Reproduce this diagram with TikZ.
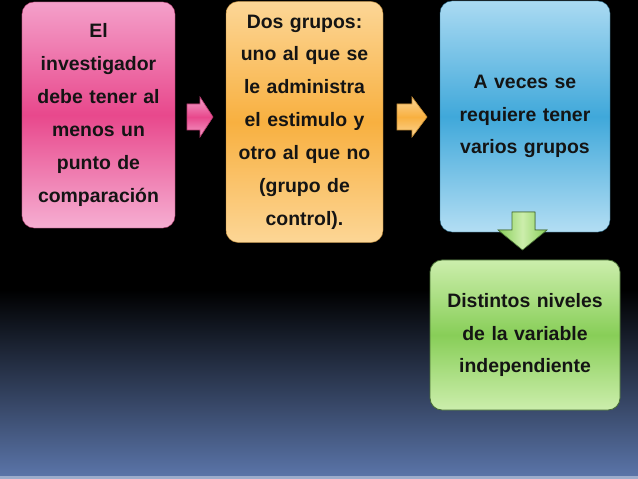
\documentclass[tikz,border=0pt]{standalone}
\usepackage{fontspec}
\setmainfont{Liberation Sans}
\usetikzlibrary{calc}
\definecolor{pinkL}{RGB}{244,160,202}
\definecolor{pinkM}{RGB}{232,72,140}
\definecolor{orL}{RGB}{252,214,150}
\definecolor{orM}{RGB}{248,176,64}
\definecolor{blL}{RGB}{170,218,242}
\definecolor{blM}{RGB}{64,168,218}
\definecolor{grL}{RGB}{204,238,172}
\definecolor{grM}{RGB}{136,206,88}
\definecolor{grB}{RGB}{70,110,50}
\definecolor{bgB}{RGB}{90,116,168}
\definecolor{txt}{RGB}{20,20,20}
\tikzset{
  box/.style={rounded corners=12bp, inner sep=0pt, align=center, text=txt,
    font=\fontsize{19.5}{33}\selectfont\bfseries},
  blockarrow/.style={line width=0.6bp}
}
\begin{document}
\begin{tikzpicture}[x=1bp,y=-1bp]
\useasboundingbox (0,0) rectangle (638,479);
\fill[black] (0,0) rectangle (638,479);
\shade[top color=black, bottom color=bgB] (0,290) rectangle (638,476);
\fill[bgB!60!white] (0,476) rectangle (638,479);

\node[box, minimum width=153bp, minimum height=226bp, text width=150bp,
  top color=pinkL, bottom color=pinkL!85!white, middle color=pinkM, draw=pinkM!70!black, line width=0.4bp]
  (p) at (98.5,115) {El\\investigador\\debe tener al\\menos un\\punto de\\comparación};
\node[box, minimum width=157bp, minimum height=241bp, text width=154bp,
  top color=orL, bottom color=orL, middle color=orM, draw=orM!70!black, line width=0.4bp]
  (o) at (304.5,122) {Dos grupos:\\uno al que se\\le administra\\el estimulo y\\otro al que no\\(grupo de\\control).};
\node[box, minimum width=170bp, minimum height=231bp, text width=166bp,
  top color=blL, bottom color=blL!90!white, middle color=blM, draw=blM!60!black, line width=0.4bp]
  (b) at (525,116.5) {A veces se\\requiere tener\\varios grupos};
\node[box, minimum width=190bp, minimum height=150bp, text width=186bp,
  top color=grL, bottom color=grL, middle color=grM, draw=grB, line width=0.8bp]
  (g) at (525,335) {Distintos niveles\\de la variable\\independiente};

% pink block arrow
\coordinate (a1) at (187,117);
\filldraw[blockarrow, top color=pinkL, bottom color=pinkL, middle color=pinkM, draw=pinkM!80!black]
  (a1) ++(0,-13) -- ++(13,0) -- ++(0,-7) -- (213,117) -- (200,137) -- (200,130) -- (187,130) -- cycle;
% orange block arrow
\coordinate (a2) at (397,117);
\filldraw[blockarrow, top color=orL, bottom color=orL, middle color=orM, draw=orM!80!black]
  (a2) ++(0,-13) -- ++(15,0) -- ++(0,-7) -- (427,117) -- (412,137) -- (412,130) -- (397,130) -- cycle;
% green block arrow
\coordinate (a3) at (522.5,250);
\filldraw[blockarrow, left color=grM, right color=grM, middle color=grL, draw=grB]
  (512,212) -- (535,212) -- (535,230) -- (547,230) -- (a3) -- (498,230) -- (512,230) -- cycle;
\end{tikzpicture}
\end{document}
